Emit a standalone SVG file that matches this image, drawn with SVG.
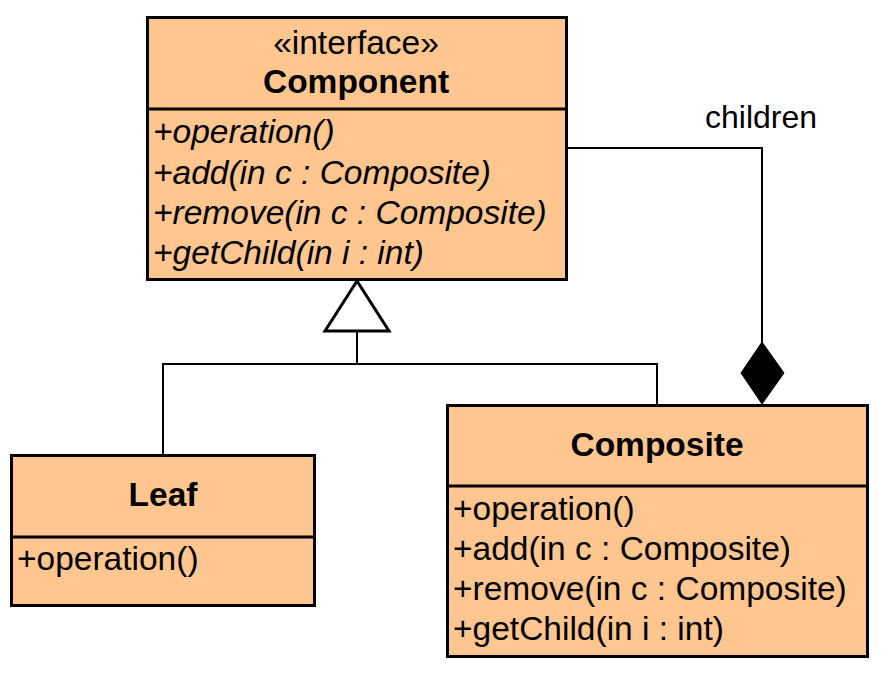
<svg xmlns="http://www.w3.org/2000/svg" width="888" height="674" viewBox="0 0 888 674">
<style>
.box{fill:#FFC690;stroke:#000;stroke-width:3}
.div{stroke:#000;stroke-width:3}
.t{font-family:"Liberation Sans",Arial,sans-serif;font-size:33.5px;fill:#000}
.b{font-weight:bold;text-anchor:middle}
.c{text-anchor:middle}
.i{font-style:italic}
.ln{fill:none;stroke:#000;stroke-width:2}
</style>
<rect width="888" height="674" fill="#fff"/>
<g id="connectors">
<polyline class="ln" points="163,455 163,364 657,364 657,406"/>
<line class="ln" x1="357" y1="364" x2="357" y2="331"/>
<polygon points="357,281 325,331 389,331" fill="#fff" stroke="#000" stroke-width="3"/>
<polyline class="ln" points="567,148 762,148 762,342"/>
<polygon points="762,342 784,373 762,404 741,373" fill="#000" stroke="#000" stroke-width="1"/>
<text class="t c" x="761" y="128" style="font-size:32px">children</text>
</g>
<g id="component">
<rect class="box" x="147.5" y="17.5" width="419" height="262"/>
<line class="div" x1="147.5" y1="109" x2="566.5" y2="109"/>
<text class="t c" x="356" y="54">«interface»</text>
<text class="t b" x="356" y="93">Component</text>
<text class="t i" x="153" y="143">+operation()</text>
<text class="t i" x="153" y="184">+add(in c : Composite)</text>
<text class="t i" x="153" y="224">+remove(in c : Composite)</text>
<text class="t i" x="153" y="264">+getChild(in i : int)</text>
</g>
<g id="leaf">
<rect class="box" x="11.5" y="455.5" width="303" height="150"/>
<line class="div" x1="11.5" y1="537" x2="314.5" y2="537"/>
<text class="t b" x="163" y="506">Leaf</text>
<text class="t" x="17" y="570">+operation()</text>
</g>
<g id="composite">
<rect class="box" x="447.5" y="405.5" width="420" height="251"/>
<line class="div" x1="447.5" y1="486" x2="867.5" y2="486"/>
<text class="t b" x="657" y="456">Composite</text>
<text class="t" x="453" y="520">+operation()</text>
<text class="t" x="453" y="560">+add(in c : Composite)</text>
<text class="t" x="453" y="600">+remove(in c : Composite)</text>
<text class="t" x="453" y="640">+getChild(in i : int)</text>
</g>
</svg>
